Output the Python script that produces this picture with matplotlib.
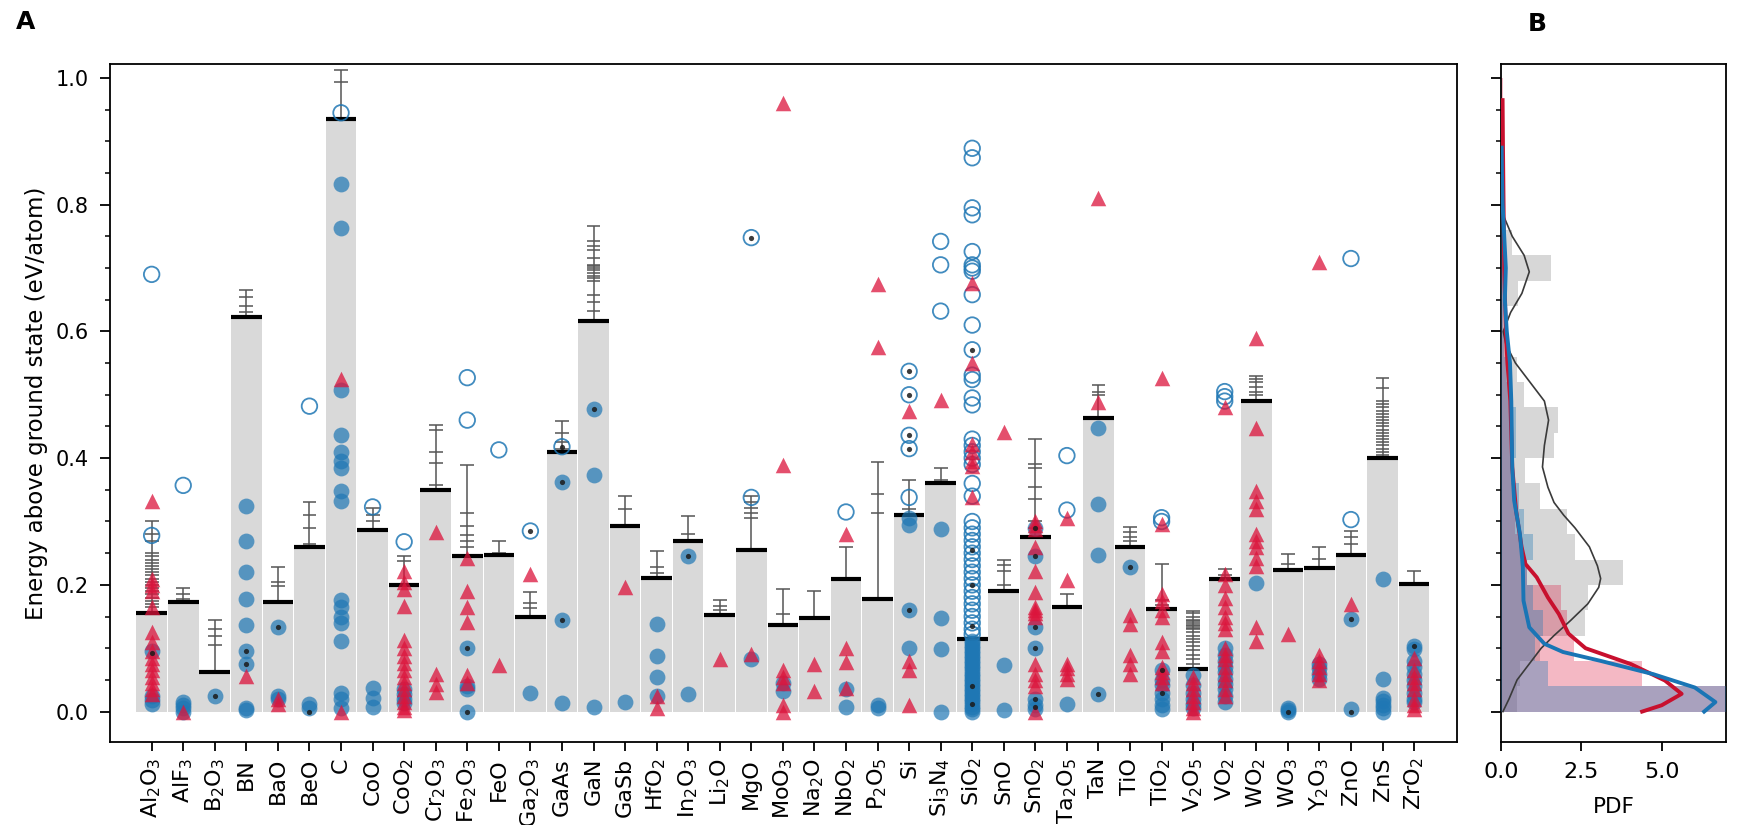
import re
import numpy as np
import matplotlib
matplotlib.use("Agg")
import matplotlib.pyplot as plt
from matplotlib.ticker import MultipleLocator

plt.rcParams['font.family'] = ['DejaVu Sans']
plt.rcParams['mathtext.default'] = 'regular'

# compounds on the x axis
compounds = ['Al2O3', 'AlF3', 'B2O3', 'BN', 'BaO', 'BeO', 'C', 'CoO', 'CoO2', 'Cr2O3',
             'Fe2O3', 'FeO', 'Ga2O3', 'GaAs', 'GaN', 'GaSb', 'HfO2', 'In2O3', 'Li2O', 'MgO',
             'MoO3', 'Na2O', 'NbO2', 'P2O5', 'Si', 'Si3N4', 'SiO2', 'SnO', 'SnO2', 'Ta2O5',
             'TaN', 'TiO', 'TiO2', 'V2O5', 'VO2', 'WO2', 'WO3', 'Y2O3', 'ZnO', 'ZnS', 'ZrO2']

# amorphous energy (gray bars, black line on top)
bar_heights = [0.155, 0.173, 0.063, 0.622, 0.173, 0.26, 0.935, 0.287, 0.2, 0.35,
               0.246, 0.247, 0.15, 0.41, 0.617, 0.293, 0.211, 0.269, 0.153, 0.255,
               0.137, 0.148, 0.209, 0.178, 0.311, 0.36, 0.115, 0.19, 0.275, 0.165,
               0.463, 0.26, 0.162, 0.067, 0.209, 0.49, 0.223, 0.226, 0.247, 0.4, 0.202]

# individual amorphous samples (thin gray ticks above the bars)
samples = {
    'Al2O3': [0.30, 0.28, 0.27, 0.25, 0.245, 0.24, 0.235, 0.23, 0.225, 0.22, 0.215, 0.21,
              0.205, 0.2, 0.195, 0.19, 0.185, 0.18, 0.175, 0.17, 0.165],
    'AlF3': [0.195, 0.185, 0.178],
    'B2O3': [0.145, 0.13, 0.12, 0.105],
    'BN': [0.665, 0.655, 0.64, 0.63],
    'BaO': [0.228, 0.205, 0.198],
    'BeO': [0.33, 0.31, 0.29, 0.265],
    'C': [1.012, 0.993],
    'CoO': [0.322, 0.31, 0.3],
    'CoO2': [0.245, 0.238],
    'Cr2O3': [0.452, 0.445, 0.41, 0.393, 0.358],
    'Fe2O3': [0.389, 0.314, 0.293, 0.278, 0.27, 0.259],
    'FeO': [0.27, 0.25],
    'Ga2O3': [0.188, 0.172, 0.163],
    'GaAs': [0.458, 0.44, 0.425, 0.415],
    'GaN': [0.766, 0.742, 0.734, 0.729, 0.716, 0.705, 0.703, 0.7, 0.697, 0.692, 0.688,
            0.684, 0.679, 0.658, 0.647, 0.632],
    'GaSb': [0.34, 0.32],
    'HfO2': [0.253, 0.228, 0.218],
    'In2O3': [0.309, 0.28],
    'Li2O': [0.176, 0.166, 0.16],
    'MgO': [0.34, 0.33, 0.322, 0.314, 0.305],
    'MoO3': [0.193, 0.154],
    'Na2O': [0.191],
    'NbO2': [0.259],
    'P2O5': [0.394, 0.344, 0.314],
    'Si': [0.366, 0.32],
    'Si3N4': [0.385, 0.365],
    'SnO': [0.239, 0.232, 0.222, 0.2],
    'SnO2': [0.43, 0.39, 0.385, 0.355, 0.335, 0.3, 0.29],
    'Ta2O5': [0.186],
    'TaN': [0.516, 0.505, 0.5],
    'TiO': [0.292, 0.283, 0.276, 0.27],
    'TiO2': [0.233, 0.176, 0.168],
    'V2O5': [0.159, 0.155, 0.15, 0.145, 0.143, 0.14, 0.137, 0.135, 0.132, 0.13, 0.125,
             0.12, 0.115, 0.11, 0.104, 0.097, 0.09, 0.083, 0.075],
    'VO2': [0.225, 0.216],
    'WO2': [0.53, 0.525, 0.52, 0.512, 0.505, 0.5],
    'WO3': [0.248, 0.233],
    'Y2O3': [0.259, 0.241],
    'ZnO': [0.285, 0.276, 0.265],
    'ZnS': [0.527, 0.51, 0.49, 0.485, 0.48, 0.475, 0.47, 0.465, 0.46, 0.455, 0.45, 0.445,
            0.44, 0.435, 0.43, 0.425, 0.42, 0.415, 0.41, 0.405],
    'ZrO2': [0.222],
}

# filled blue circles
blue_filled = {
    'Al2O3': [0.095, 0.025, 0.018, 0.012],
    'AlF3': [0.015, 0.01, 0.005, 0.0],
    'B2O3': [0.025],
    'BN': [0.325, 0.27, 0.22, 0.178, 0.137, 0.095, 0.075, 0.005, 0.002],
    'BaO': [0.133, 0.025, 0.02],
    'BeO': [0.012, 0.006],
    'C': [0.833, 0.763, 0.508, 0.437, 0.41, 0.395, 0.385, 0.348, 0.333, 0.176, 0.165,
          0.15, 0.14, 0.112, 0.03, 0.02, 0.006],
    'CoO': [0.038, 0.021, 0.008],
    'CoO2': [0.035, 0.027, 0.02, 0.014],
    'Fe2O3': [0.1, 0.041, 0.035, 0.0],
    'Ga2O3': [0.029],
    'GaAs': [0.362, 0.144, 0.013],
    'GaN': [0.478, 0.374, 0.007],
    'GaSb': [0.015],
    'HfO2': [0.139, 0.088, 0.055, 0.025],
    'In2O3': [0.246, 0.028],
    'MgO': [0.083],
    'MoO3': [0.045, 0.033],
    'NbO2': [0.035, 0.008],
    'P2O5': [0.01, 0.005],
    'Si': [0.305, 0.295, 0.16, 0.1],
    'Si3N4': [0.288, 0.147, 0.099, 0.0],
    'SiO2': [0.112, 0.108, 0.104, 0.1, 0.096, 0.092, 0.088, 0.084, 0.08, 0.076, 0.072,
             0.068, 0.064, 0.06, 0.056, 0.052, 0.048, 0.044, 0.04, 0.036, 0.032, 0.028,
             0.024, 0.02, 0.016, 0.012, 0.008, 0.004, 0.0],
    'SnO': [0.073, 0.002],
    'SnO2': [0.29, 0.245, 0.133, 0.1, 0.02, 0.01, 0.004],
    'Ta2O5': [0.012],
    'TaN': [0.447, 0.327, 0.247, 0.028],
    'TiO': [0.228],
    'TiO2': [0.065, 0.05, 0.042, 0.03, 0.02, 0.01, 0.004],
    'V2O5': [0.058, 0.042, 0.03, 0.02, 0.012, 0.005],
    'VO2': [0.1, 0.09, 0.08, 0.07, 0.062, 0.052, 0.043, 0.035, 0.025, 0.015],
    'WO2': [0.203],
    'WO3': [0.006, 0.002, 0.0],
    'Y2O3': [0.075, 0.068, 0.06, 0.052],
    'ZnO': [0.146, 0.004],
    'ZnS': [0.209, 0.052, 0.022, 0.016, 0.01, 0.005, 0.0],
    'ZrO2': [0.104, 0.098, 0.08, 0.07, 0.06, 0.05, 0.04, 0.03, 0.02, 0.015],
}

# open blue circles
blue_open = {
    'Al2O3': [0.69, 0.278],
    'AlF3': [0.357],
    'BeO': [0.482],
    'C': [0.945],
    'CoO': [0.323],
    'CoO2': [0.268],
    'Fe2O3': [0.527, 0.46],
    'FeO': [0.413],
    'Ga2O3': [0.285],
    'GaAs': [0.418],
    'MgO': [0.748, 0.338],
    'NbO2': [0.315],
    'Si': [0.537, 0.5, 0.436, 0.415, 0.338],
    'Si3N4': [0.742, 0.705, 0.632],
    'SiO2': [0.889, 0.874, 0.795, 0.784, 0.726, 0.705, 0.7, 0.695, 0.658, 0.61, 0.571,
             0.531, 0.524, 0.495, 0.484, 0.43, 0.42, 0.41, 0.4, 0.39, 0.36, 0.34, 0.3,
             0.29, 0.28, 0.27, 0.26, 0.25, 0.24, 0.23, 0.22, 0.21, 0.2, 0.19, 0.18, 0.17,
             0.16, 0.15, 0.14, 0.13, 0.122],
    'Ta2O5': [0.404, 0.318],
    'TiO2': [0.306, 0.3],
    'VO2': [0.505, 0.497, 0.49],
    'ZnO': [0.715, 0.303],
}

# red triangles
red_tri = {
    'Al2O3': [0.333, 0.21, 0.2, 0.19, 0.165, 0.125, 0.11, 0.095, 0.085, 0.075, 0.065,
              0.055, 0.045, 0.035, 0.028],
    'AlF3': [0.0],
    'BN': [0.056],
    'BaO': [0.02, 0.012],
    'C': [0.525, 0.0],
    'CoO2': [0.222, 0.205, 0.193, 0.166, 0.113, 0.1, 0.088, 0.076, 0.065, 0.055, 0.045,
             0.035, 0.025, 0.015, 0.008, 0.003],
    'Cr2O3': [0.283, 0.059, 0.044, 0.031],
    'Fe2O3': [0.243, 0.191, 0.165, 0.141, 0.057, 0.045],
    'FeO': [0.073],
    'Ga2O3': [0.217],
    'GaSb': [0.197],
    'HfO2': [0.024, 0.006],
    'Li2O': [0.083],
    'MgO': [0.091],
    'MoO3': [0.961, 0.389, 0.065, 0.055, 0.045, 0.01, 0.0],
    'Na2O': [0.075, 0.033],
    'NbO2': [0.28, 0.101, 0.078, 0.038],
    'P2O5': [0.675, 0.575],
    'Si': [0.475, 0.08, 0.065, 0.01],
    'Si3N4': [0.492],
    'SiO2': [0.676, 0.55, 0.422, 0.41, 0.396, 0.388, 0.338],
    'SnO': [0.442],
    'SnO2': [0.3, 0.295, 0.288, 0.259, 0.222, 0.188, 0.165, 0.16, 0.155, 0.15, 0.075,
             0.06, 0.05, 0.04, 0.0],
    'Ta2O5': [0.306, 0.207, 0.075, 0.068, 0.06, 0.052],
    'TaN': [0.81, 0.489],
    'TiO': [0.152, 0.138, 0.09, 0.075, 0.06],
    'TiO2': [0.527, 0.296, 0.186, 0.175, 0.16, 0.15, 0.11, 0.095, 0.07, 0.062, 0.055, 0.045],
    'V2O5': [0.055, 0.045, 0.035, 0.025, 0.015, 0.006, 0.0],
    'VO2': [0.48, 0.217, 0.2, 0.18, 0.165, 0.15, 0.14, 0.13, 0.1, 0.09, 0.083, 0.07,
            0.06, 0.05, 0.035, 0.025],
    'WO2': [0.59, 0.448, 0.348, 0.333, 0.32, 0.28, 0.27, 0.26, 0.243, 0.23, 0.133, 0.112],
    'WO3': [0.122],
    'Y2O3': [0.71, 0.09, 0.08, 0.07, 0.06, 0.05],
    'ZnO': [0.17],
    'ZrO2': [0.085, 0.065, 0.055, 0.045, 0.035, 0.02, 0.01, 0.004],
}

# small black dots inside some circles
black_dots = {
    'Al2O3': [0.092], 'B2O3': [0.025], 'BN': [0.095, 0.075], 'BaO': [0.133], 'BeO': [0.0],
    'Fe2O3': [0.1, 0.0], 'Ga2O3': [0.285], 'GaAs': [0.418, 0.362, 0.144], 'GaN': [0.478],
    'In2O3': [0.246], 'MgO': [0.748], 'Si': [0.537, 0.5, 0.436, 0.415, 0.16],
    'SiO2': [0.571, 0.255, 0.2, 0.135, 0.04, 0.012],
    'SnO2': [0.29, 0.245, 0.133, 0.1, 0.02, 0.008], 'TaN': [0.028], 'TiO': [0.228],
    'TiO2': [0.065, 0.03], 'WO3': [0.0], 'ZnO': [0.146, 0.0], 'ZrO2': [0.104],
}

# panel B: histograms (density, bins of 0.04 eV/atom) and kde curves
bin_edges = [0.00, 0.04, 0.08, 0.12, 0.16, 0.20, 0.24, 0.28, 0.32, 0.36, 0.40, 0.44, 0.48,
             0.52, 0.56, 0.60, 0.64, 0.68, 0.72, 0.76, 0.80, 0.84, 0.88, 0.92, 0.96, 1.00]
gray_pdf = [0.5, 0.6, 1.2, 2.6, 2.7, 3.78, 2.3, 2.05, 1.2, 0.75, 1.64, 1.76, 0.7,
            0.5, 0.15, 0.2, 0.53, 1.56, 0.35, 0.1, 0.0, 0.0, 0.0, 0.0, 0.0]
red_pdf = [8.5, 4.4, 2.26, 2.05, 1.87, 0.8, 0.6, 0.45, 0.4, 0.3, 0.3, 0.3, 0.25,
           0.15, 0.15, 0.05, 0.1, 0.05, 0.0, 0.0, 0.05, 0.0, 0.0, 0.0, 0.05]
blue_pdf = [10.0, 1.46, 1.05, 1.3, 1.0, 0.8, 1.0, 0.7, 0.55, 0.4, 0.47, 0.47, 0.35,
            0.3, 0.1, 0.05, 0.1, 0.2, 0.1, 0.1, 0.0, 0.05, 0.05, 0.0, 0.0]

gray_kde_y = [0.0, 0.02, 0.05, 0.08, 0.10, 0.12, 0.144, 0.17, 0.196, 0.21, 0.23, 0.26,
              0.29, 0.31, 0.33, 0.354, 0.386, 0.42, 0.46, 0.49, 0.52, 0.55, 0.58, 0.60,
              0.63, 0.66, 0.694, 0.72, 0.75, 0.78, 0.80, 0.85, 0.90]
gray_kde_x = [0.06, 0.25, 0.5, 0.95, 1.25, 1.65, 2.17, 2.7, 3.04, 3.1, 3.0, 2.75,
              2.3, 1.95, 1.65, 1.46, 1.29, 1.35, 1.48, 1.35, 0.9, 0.45, 0.15, 0.07,
              0.3, 0.65, 0.88, 0.72, 0.35, 0.1, 0.04, 0.01, 0.0]
red_kde_y = [0.0, 0.01, 0.028, 0.049, 0.075, 0.10, 0.123, 0.154, 0.18, 0.212, 0.233,
             0.26, 0.317, 0.386, 0.49, 0.55, 0.6, 0.7, 0.8, 0.9, 0.965]
red_kde_x = [4.39, 5.0, 5.62, 5.1, 4.04, 2.63, 2.1, 1.8, 1.46, 1.11, 0.76,
             0.64, 0.47, 0.35, 0.29, 0.2, 0.15, 0.1, 0.08, 0.06, 0.05]
blue_kde_y = [0.0, 0.015, 0.038, 0.059, 0.08, 0.094, 0.107, 0.133, 0.175, 0.228, 0.28,
              0.333, 0.386, 0.49, 0.55, 0.6, 0.65, 0.7, 0.75, 0.8, 0.85, 0.89]
blue_kde_x = [6.32, 6.67, 6.03, 4.74, 3.1, 1.93, 1.35, 0.88, 0.7, 0.68, 0.59,
              0.41, 0.35, 0.32, 0.28, 0.18, 0.12, 0.15, 0.1, 0.05, 0.03, 0.02]

BLUE = '#1f77b4'
RED = '#dc143c'


def label(name):
    return re.sub(r'(\d+)', r'$_{\1}$', name)


fig = plt.figure(figsize=(17.39, 8.25), dpi=100)
axA = fig.add_axes([110 / 1739, 83 / 825, 1347 / 1739, 678 / 825])
axB = fig.add_axes([1501 / 1739, 83 / 825, 225 / 1739, 678 / 825], sharey=axA)

x = np.arange(len(compounds))
axA.bar(x, bar_heights, width=0.97, color='#d9d9d9', zorder=1)
for i, name in enumerate(compounds):
    h = bar_heights[i]
    s = samples.get(name, [])
    if s:
        axA.vlines(i, h, max(s), color='#555555', lw=1.1, zorder=2)
        axA.hlines(s, i - 0.22, i + 0.22, color='#555555', lw=1.1, zorder=2)
    axA.hlines(h, i - 0.485, i + 0.485, color='black', lw=3, zorder=3)

for name, vals in blue_filled.items():
    i = compounds.index(name)
    axA.scatter([i] * len(vals), vals, s=130, color=BLUE, alpha=0.7, lw=0, zorder=4)
for name, vals in blue_open.items():
    i = compounds.index(name)
    axA.scatter([i] * len(vals), vals, s=125, facecolor='none', edgecolor=BLUE,
                alpha=0.85, lw=1.3, zorder=5)
for name, vals in red_tri.items():
    i = compounds.index(name)
    axA.scatter([i] * len(vals), vals, s=125, marker='^', color=RED, alpha=0.75,
                lw=0, zorder=6)
for name, vals in black_dots.items():
    i = compounds.index(name)
    axA.scatter([i] * len(vals), vals, s=14, color='#1a1a1a', alpha=0.85, lw=0, zorder=7)

axA.set_xlim(-1.32, 41.36)
axA.set_ylim(-0.048, 1.022)
axA.set_xticks(x)
axA.set_xticklabels([label(c) for c in compounds], rotation=90, fontsize=16)
axA.yaxis.set_major_locator(MultipleLocator(0.2))
axA.yaxis.set_minor_locator(MultipleLocator(0.05))
axA.yaxis.set_major_formatter(plt.FormatStrFormatter('%.1f'))
axA.set_ylabel('Energy above ground state (eV/atom)', fontsize=16.5)
axA.yaxis.set_label_coords(-0.046, 0.5)
axA.tick_params(axis='x', which='major', length=6.5, width=1.3, pad=5)
axA.tick_params(axis='y', which='major', labelsize=15, length=7.2, width=1.3, pad=8)
axA.tick_params(axis='y', which='minor', length=3.5, width=1.1)

lo = bin_edges[:-1]
hw = np.diff(bin_edges)
axB.barh(lo, gray_pdf, height=hw, align='edge', color='#d3d3d3', alpha=0.9, zorder=1)
axB.barh(lo, red_pdf, height=hw, align='edge', color=RED, alpha=0.3, zorder=2)
axB.barh(lo, blue_pdf, height=hw, align='edge', color=BLUE, alpha=0.35, zorder=3)
axB.plot(gray_kde_x, gray_kde_y, color='#3a3a3a', lw=1.2, zorder=4)
axB.plot(red_kde_x, red_kde_y, color='#c8102e', lw=2.8, zorder=5)
axB.plot(blue_kde_x, blue_kde_y, color='#1a75b5', lw=2.8, zorder=6)
axB.set_xlim(0, 7.0)
axB.set_xticks([0, 2.5, 5.0])
axB.set_xticklabels(['0.0', '2.5', '5.0'])
axB.set_xlabel('PDF', fontsize=15.5)
axB.xaxis.set_label_coords(0.5, -0.081)
axB.tick_params(axis='y', labelleft=False)
axB.tick_params(axis='x', which='major', labelsize=16, length=6.5, width=1.3, pad=8)
axB.tick_params(axis='y', which='major', length=7.2, width=1.3)
axB.tick_params(axis='y', which='minor', length=3.5, width=1.1)

for ax in (axA, axB):
    for sp in ax.spines.values():
        sp.set_linewidth(1.3)

fig.text(26 / 1739, 1 - 22 / 825, 'A', fontsize=18, fontweight='bold', ha='center', va='center')
fig.text(1537 / 1739, 1 - 24 / 825, 'B', fontsize=18, fontweight='bold', ha='center', va='center')

fig.savefig('out.png', dpi=100)
